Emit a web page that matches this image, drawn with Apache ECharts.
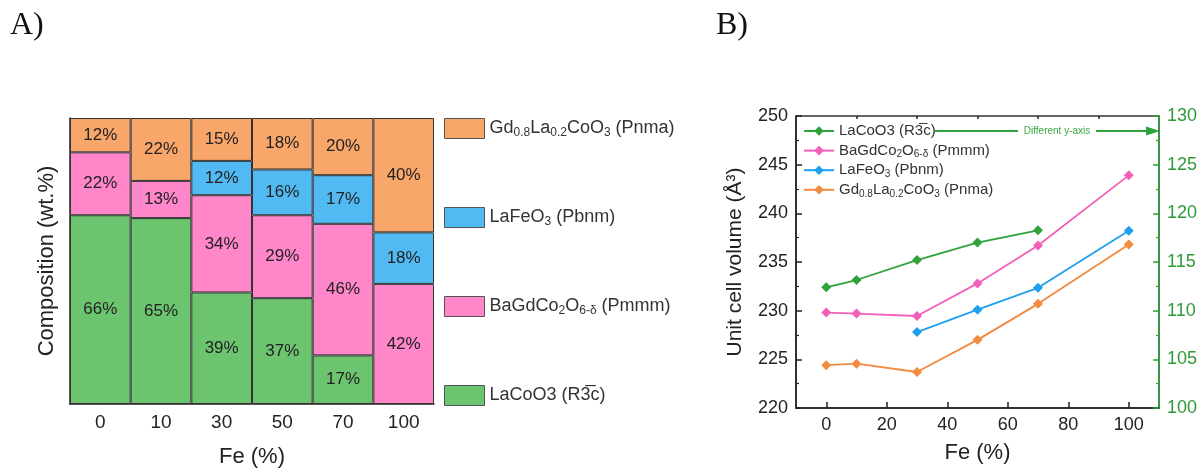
<!DOCTYPE html>
<html>
<head>
<meta charset="utf-8">
<script src="https://cdn.jsdelivr.net/npm/echarts@6/dist/echarts.min.js"></script>
<style>
html,body{margin:0;padding:0;background:#fff;}
#main{width:1201px;height:468px;}
</style>
</head>
<body>
<div id="main"></div>
<script>
// ---------- Panel A data ----------
var compCategories = ['0', '10', '30', '50', '70', '100'];
var compLaCoO3 = [66, 65, 39, 37, 17, null];
var compBaGd = [22, 13, 34, 29, 46, 42];
var compLaFeO3 = [null, null, 12, 16, 17, 18];
var compGdLa = [12, 22, 15, 18, 20, 40];

// ---------- Panel B data ----------
var feValues = [0, 10, 30, 50, 70, 100];
var volLaCoO3 = [112.4, 113.15, 115.2, 117.0, 118.25, null];   // right axis
var volBaGd = [229.8, 229.7, 229.45, 232.8, 236.7, 243.9];
var volLaFeO3 = [null, null, 227.8, 230.1, 232.35, 238.2];
var volGdLa = [224.4, 224.55, 223.7, 227.0, 230.7, 236.8];
var xTicksB = [0, 20, 40, 60, 80, 100];
var xMinorB = [10, 30, 50, 70, 90];

function pairs(xs, ys) {
  var out = [];
  for (var i = 0; i < xs.length; i++) { if (ys[i] != null) out.push([xs[i], ys[i]]); }
  return out;
}

var labelsRich = {
  A_Gd: 'Gd{s|0.8}La{s|0.2}CoO{s|3} (Pnma)',
  A_Fe: 'LaFeO{s|3} (Pbnm)',
  A_Ba: 'BaGdCo{s|2}O{s|6-δ} (Pmmm)',
  A_Co: 'LaCoO3 (R3\u0305c)',
  B_Co: 'LaCoO3 (R3\u0305c)',
  B_Ba: 'BaGdCo{s|2}O{s|6-δ} (Pmmm)',
  B_Fe: 'LaFeO{s|3} (Pbnm)',
  B_Gd: 'Gd{s|0.8}La{s|0.2}CoO{s|3} (Pnma)'
};

var cA = {orange: '#f9a66b', blue: '#52baf3', pink: '#fe86c9', green: '#6cc46f'};
var cB = {green: '#2fa33a', pink: '#f45fb8', blue: '#1fa0ee', orange: '#f28a3f'};
var fontFam = 'Liberation Sans, Arial, sans-serif';

var chart = echarts.init(document.getElementById('main'));

function barSeries(name, data, color) {
  return {
    name: name, type: 'bar', stack: 'comp', xAxisIndex: 0, yAxisIndex: 0,
    data: data, barCategoryGap: '0%',
    itemStyle: {color: color, borderColor: '#333', borderWidth: 1},
    label: {show: true, position: 'inside', formatter: '{c}%', fontSize: 17, color: '#222', fontFamily: fontFam},
    emphasis: {disabled: true}
  };
}
function lineSeries(name, data, color, yIdx) {
  return {
    name: name, type: 'line', xAxisIndex: 1, yAxisIndex: yIdx,
    data: data, symbol: 'diamond', symbolSize: 10, showSymbol: true,
    lineStyle: {color: color, width: 1.8}, itemStyle: {color: color},
    emphasis: {disabled: true}
  };
}

var option = {
  backgroundColor: '#fff',
  animation: false,
  textStyle: {fontFamily: fontFam},
  grid: [
    {left: 70, top: 118, width: 364, height: 286, outerBoundsMode: 'none', containLabel: false},
    {left: 796, top: 116, width: 363, height: 292, outerBoundsMode: 'none', containLabel: false,
      show: true, borderColor: '#333', borderWidth: 1.5, backgroundColor: 'transparent'}
  ],
  legend: [
    {
      data: ['A_Gd', 'A_Fe', 'A_Ba', 'A_Co'], orient: 'vertical', left: 444, top: 118, padding: 0,
      itemWidth: 40, itemHeight: 20, itemGap: 68, selectedMode: false, icon: 'rect',
      itemStyle: {borderWidth: 1, borderColor: '#555'},
      formatter: function (n) { return labelsRich[n]; },
      textStyle: {fontSize: 18, color: '#333', lineHeight: 20, fontFamily: fontFam,
        rich: {s: {fontSize: 12, lineHeight: 12, verticalAlign: 'bottom', color: '#333', fontFamily: fontFam}}}
    },
    {
      data: ['B_Co', 'B_Ba', 'B_Fe', 'B_Gd'], orient: 'vertical', left: 803, top: 122, padding: 0,
      itemWidth: 30, itemHeight: 12, itemGap: 1.6, selectedMode: false,
      formatter: function (n) { return labelsRich[n]; },
      textStyle: {fontSize: 15, color: '#333', lineHeight: 18, fontFamily: fontFam,
        rich: {s: {fontSize: 10, lineHeight: 10, verticalAlign: 'bottom', color: '#333', fontFamily: fontFam}}}
    }
  ],
  xAxis: [
    {
      type: 'category', gridIndex: 0, data: compCategories,
      axisLine: {lineStyle: {color: '#222', width: 1.5}},
      axisTick: {inside: true, alignWithLabel: true, length: 6, lineStyle: {color: '#222', width: 1.5}},
      axisLabel: {fontSize: 19, color: '#222', margin: 9},
      name: 'Fe (%)', nameLocation: 'middle', nameGap: 42,
      nameTextStyle: {fontSize: 22, color: '#222'}
    },
    {
      type: 'value', gridIndex: 1, min: -10, max: 110,
      splitLine: {show: false},
      axisLine: {onZero: false, lineStyle: {color: '#222', width: 1.5}},
      axisTick: {inside: true, length: 6, customValues: xTicksB, lineStyle: {color: '#222', width: 1.5}},
      axisLabel: {fontSize: 18, color: '#222', margin: 8, customValues: xTicksB},
      name: 'Fe (%)', nameLocation: 'middle', nameGap: 34,
      nameTextStyle: {fontSize: 22, color: '#222'}
    },
    {
      type: 'value', gridIndex: 1, min: -10, max: 110,
      splitLine: {show: false}, axisLine: {show: false, onZero: false}, axisLabel: {show: false},
      axisTick: {inside: true, length: 3, customValues: xMinorB, lineStyle: {color: '#222', width: 1.5}}
    }
  ],
  yAxis: [
    {
      type: 'value', gridIndex: 0, min: 0, max: 100,
      splitLine: {show: false}, axisTick: {show: false}, axisLabel: {show: false},
      axisLine: {show: true, lineStyle: {color: '#222', width: 1.5}},
      name: 'Composition (wt.%)', nameLocation: 'middle', nameGap: 12,
      nameTextStyle: {fontSize: 22, color: '#222'}
    },
    {
      type: 'value', gridIndex: 1, min: 220, max: 250, interval: 5,
      splitLine: {show: false},
      axisLine: {show: true, onZero: false, lineStyle: {color: '#222', width: 1.5}},
      axisTick: {inside: true, length: 6, lineStyle: {color: '#222', width: 1.5}},
      minorTick: {show: true, splitNumber: 2, length: 3, lineStyle: {color: '#222', width: 1.2}},
      axisLabel: {fontSize: 18, color: '#222', margin: 8},
      name: 'Unit cell volume (Å³)', nameLocation: 'middle', nameGap: 50,
      nameTextStyle: {fontSize: 21, color: '#222'}
    },
    {
      type: 'value', gridIndex: 1, position: 'right', min: 100, max: 130, interval: 5,
      splitLine: {show: false},
      axisLine: {show: true, onZero: false, lineStyle: {color: '#2fa33a', width: 1.5}},
      axisTick: {inside: true, length: 6, lineStyle: {color: '#2fa33a', width: 1.5}},
      minorTick: {show: true, splitNumber: 2, length: 3, lineStyle: {color: '#2fa33a', width: 1.2}},
      axisLabel: {fontSize: 18, color: '#2f9a3a', margin: 8}
    }
  ],
  series: [
    barSeries('A_Co', compLaCoO3, cA.green),
    barSeries('A_Ba', compBaGd, cA.pink),
    barSeries('A_Fe', compLaFeO3, cA.blue),
    barSeries('A_Gd', compGdLa, cA.orange),
    lineSeries('B_Co', pairs(feValues, volLaCoO3), cB.green, 2),
    lineSeries('B_Ba', pairs(feValues, volBaGd), cB.pink, 1),
    lineSeries('B_Fe', pairs(feValues, volLaFeO3), cB.blue, 1),
    lineSeries('B_Gd', pairs(feValues, volGdLa), cB.orange, 1)
  ],
  graphic: [
    {type: 'text', left: 10, top: 10, style: {text: 'A)', font: '32px "Liberation Serif", serif', fill: '#111'}},
    {type: 'text', left: 716, top: 10, style: {text: 'B)', font: '32px "Liberation Serif", serif', fill: '#111'}},
    {type: 'line', shape: {x1: 935, y1: 131, x2: 1018, y2: 131}, style: {stroke: '#2fa33a', lineWidth: 1.8}},
    {type: 'text', x: 1057, y: 131, style: {text: 'Different y-axis', fontSize: 10, fill: '#3aa845', align: 'center', verticalAlign: 'middle', fontFamily: fontFam}},
    {type: 'line', shape: {x1: 1096, y1: 131, x2: 1148, y2: 131}, style: {stroke: '#2fa33a', lineWidth: 1.8}},
    {type: 'polygon', shape: {points: [[1146, 126.5], [1160, 131], [1146, 135.5]]}, style: {fill: '#2fa33a'}}
  ]
};
chart.setOption(option);
</script>
</body>
</html>
